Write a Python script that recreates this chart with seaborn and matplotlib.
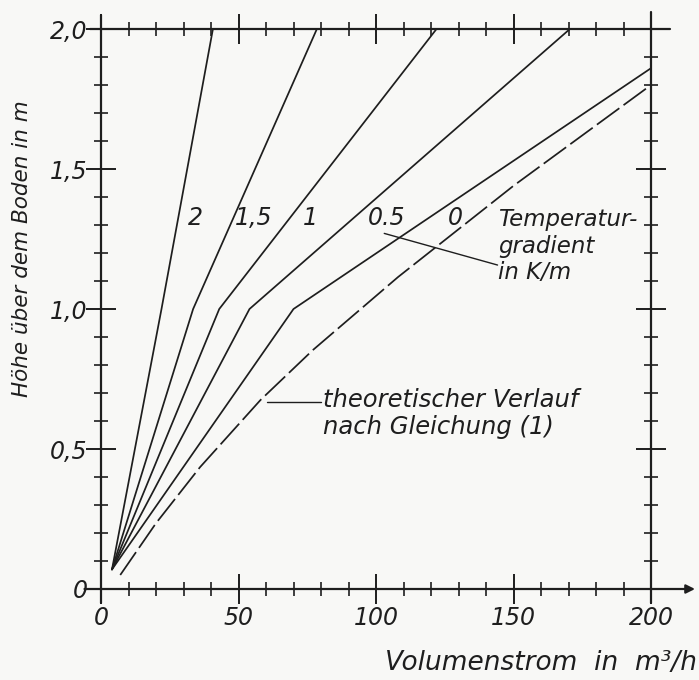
import matplotlib as mpl
mpl.use('Agg')
import numpy as np
import pandas as pd
import seaborn as sns
import matplotlib.pyplot as plt

sns.set_style("white")
plt.rcParams['font.family'] = ['DejaVu Sans']

# measured curves: volume flow (m3/h) vs height above ground (m)
gradients = ["2", "1,5", "1", "0.5", "0"]
x_2 = [4, 22, 40.7]
y_2 = [0.07, 1.0, 2.0]
x_15 = [4, 33.5, 78.5]
y_15 = [0.07, 1.0, 2.0]
x_1 = [4, 43, 122]
y_1 = [0.07, 1.0, 2.0]
x_05 = [4, 54, 170.5]
y_05 = [0.07, 1.0, 2.0]
x_0 = [4, 70, 200]
y_0 = [0.07, 1.0, 1.86]
# theoretical curve after equation (1)
x_theo = [7, 20, 36, 58, 77, 108, 150, 200]
y_theo = [0.05, 0.235, 0.435, 0.675, 0.853, 1.114, 1.44, 1.80]

label_x = [34.5, 55.6, 76, 104, 128.7]
label_y = 1.325

xticks = [0, 50, 100, 150, 200]
xticklabels = ["0", "50", "100", "150", "200"]
yticks = [0, 0.5, 1.0, 1.5, 2.0]
yticklabels = ["0", "0,5", "1,0", "1,5", "2,0"]

ink = "#1e1e1e"
paper = "#f8f8f6"

fig = plt.figure(figsize=(6.99, 6.8), dpi=100, facecolor=paper)
ax = fig.add_axes([101 / 699, 91 / 680, 550 / 699, 560 / 680])
ax.set_facecolor(paper)

curves = [(x_2, y_2), (x_15, y_15), (x_1, y_1), (x_05, y_05), (x_0, y_0)]
for (xs, ys) in curves:
    sns.lineplot(x=xs, y=ys, ax=ax, color=ink, lw=1.25, sort=False, estimator=None)
sns.lineplot(x=x_theo, y=y_theo, ax=ax, color=ink, lw=1.25, sort=False,
             estimator=None, linestyle=(0, (16, 3)))

ax.set_xlim(0, 200)
ax.set_ylim(0, 2.0)

for s in ax.spines.values():
    s.set_visible(False)

# axis frame lines, slightly overshooting like the drawing
frame_kw = dict(transform=ax.transAxes, color=ink, lw=1.6, clip_on=False)
ax.plot([0, 0], [-0.025, 1.025], **frame_kw)
ax.plot([-0.02, 1.035], [1, 1], **frame_kw)
ax.plot([1, 1], [-0.025, 1.03], **frame_kw)
ax.annotate("", xy=(1.08, 0), xytext=(-0.03, 0), xycoords="axes fraction",
            arrowprops=dict(arrowstyle="-|>", color=ink, lw=1.6,
                            mutation_scale=13, shrinkA=0, shrinkB=0))

ax.set_xticks(xticks)
ax.set_xticklabels(xticklabels)
ax.set_yticks(yticks)
ax.set_yticklabels(yticklabels)
ax.set_xticks(np.arange(0, 201, 10), minor=True)
ax.set_yticks(np.arange(0, 2.01, 0.1), minor=True)
ax.tick_params(which="both", direction="inout", top=True, right=True,
               bottom=True, left=True, colors=ink)
ax.tick_params(which="major", length=21, width=1.4, labelsize=17, pad=-1)
ax.tick_params(which="minor", length=10, width=1.2)
ax.tick_params(axis="x", which="major", pad=2)
for t in ax.get_xticklabels() + ax.get_yticklabels():
    t.set_fontstyle("italic")
    t.set_color(ink)

# curve labels (temperature gradient)
for g, lx in zip(gradients, label_x):
    ax.text(lx, label_y, g, fontsize=17, style="italic", color=ink,
            ha="center", va="center")

ax.text(144.5, 1.225, "Temperatur-\ngradient\nin K/m", fontsize=16.5,
        style="italic", color=ink, ha="left", va="center", linespacing=1.2)
ax.plot([103, 144.2], [1.27, 1.157], color=ink, lw=1.0)

ax.text(80.7, 0.628, "theoretischer Verlauf\nnach Gleichung (1)", fontsize=17.5,
        style="italic", color=ink, ha="left", va="center", linespacing=1.15)
ax.plot([60.5, 80], [0.668, 0.668], color=ink, lw=1.0)

fig.text(22 / 699, 1 - 249 / 680, "Höhe über dem Boden in m", rotation=90,
         fontsize=15.5, style="italic", color=ink, ha="center", va="center")
fig.text(697 / 699, 1 - 663 / 680, "Volumenstrom  in  m³/h", fontsize=19,
         style="italic", color=ink, ha="right", va="center")

fig.savefig("out.png", dpi=100, facecolor=paper)
